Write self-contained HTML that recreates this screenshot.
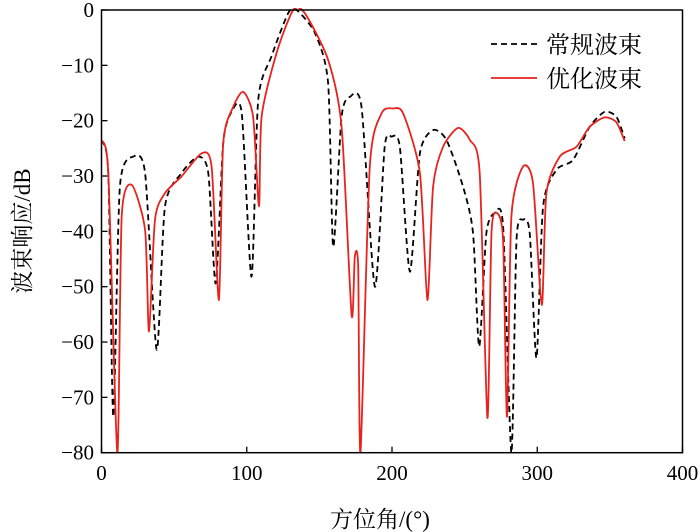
<!DOCTYPE html>
<html><head><meta charset="utf-8"><style>
html,body{margin:0;padding:0;background:#fff;}
svg{display:block;font-family:"Liberation Serif","Noto Serif CJK SC",serif;}
</style></head><body>
<svg id="chart" width="700" height="532" viewBox="0 0 700 532"></svg>
<script>
const xTicks=[0,100,200,300,400];
const yTicks=[0,-10,-20,-30,-40,-50,-60,-70,-80];
const convX=[0,4.7,8.1,12.7,21.9,30,38,43.7,55,66.6,73.5,78.6,83.8,89.6,96.5,103.3,107.9,117,128.5,134.3,147,156,159.5,165.3,171,179,188.2,195,199.7,205.4,212.3,219.2,228.3,237.5,248.9,255.8,260,265,270.8,276.5,282.2,285.7,290.2,294.8,299.5,304,313.2,324.6,336.1,346.4,354.5,360.2];
const convY=[-23.5,-29.5,-73.5,-31.9,-26.5,-29.5,-61.4,-35.5,-29.5,-26.5,-29.5,-49.4,-24.1,-18.4,-18.6,-48.2,-16.3,-8.4,-0.6,0,-4.2,-13.2,-42.8,-19.3,-15.7,-17.5,-50,-24.7,-22.9,-24.7,-47.3,-25.9,-21.7,-23.5,-31.9,-40.3,-60.8,-40.3,-36.7,-39.1,-80,-41.6,-37.9,-40.3,-62.9,-35.5,-28.9,-27.1,-21.1,-18.4,-19.3,-23.2];
const optX=[0,4.7,10.9,13.9,20.8,30,32.7,36.8,43.7,55,69,75.8,80.8,83.8,90.7,97.6,104.4,108.4,110.2,120.5,132,140,156,165.3,172.2,174.4,176.7,178.3,184.7,192.8,200.8,207.7,219.2,224.4,228.3,235.2,245.5,253.6,260.4,265.7,268.5,272.3,276.5,279.2,282.2,290.2,297.1,303.1,306.3,315.5,327,336.1,346.4,354.5,360.2];
const optY=[-23.5,-29.5,-80,-37.3,-31.6,-39.8,-58.1,-37.9,-33.1,-30.1,-25.9,-28.3,-52.4,-24.1,-17.5,-14.8,-19.3,-35.5,-19.3,-7.8,0,-0.6,-9,-21.1,-55.1,-44.6,-46.4,-80,-28.3,-18.7,-17.8,-18.7,-29.5,-52.4,-31.9,-24.7,-21.3,-23.5,-29.5,-73.7,-40.3,-36.7,-41.6,-73.5,-37.3,-28.3,-31.3,-53.3,-33.1,-26.5,-24.7,-21.1,-19.4,-20.3,-23.7];
const L=101.5,R=682.5,T=10,B=452.7;
const sx=v=>L+(v-0)/400*(R-L);
const sy=v=>T+(0-v)/80*(B-T);
const NS='http://www.w3.org/2000/svg';
const svg=document.getElementById('chart');
function mk(tag,attrs,parent){const e=document.createElementNS(NS,tag);for(const k in attrs)e.setAttribute(k,attrs[k]);(parent||svg).appendChild(e);return e;}
const defs=mk('defs',{});const cp=mk('clipPath',{id:'pc'},defs);mk('rect',{x:L,y:T-2,width:R-L,height:B-T+2},cp);
function line(xs,ys,color,dash,name){
  const P=xs.map((x,i)=>[sx(x),sy(ys[i])]);
  const k=0.12;
  let d='M'+P[0][0].toFixed(1)+','+P[0][1].toFixed(1);
  for(let i=0;i<P.length-1;i++){
    const p0=P[Math.max(0,i-1)],p1=P[i],p2=P[i+1],p3=P[Math.min(P.length-1,i+2)];
    const c1=[p1[0]+(p2[0]-p0[0])*k,p1[1]+(p2[1]-p0[1])*k];
    const c2=[p2[0]-(p3[0]-p1[0])*k,p2[1]-(p3[1]-p1[1])*k];
    d+='C'+c1[0].toFixed(1)+','+c1[1].toFixed(1)+' '+c2[0].toFixed(1)+','+c2[1].toFixed(1)+' '+p2[0].toFixed(1)+','+p2[1].toFixed(1);
  }
  const p=mk('path',{d:d,fill:'none',stroke:color,'stroke-width':'1.8','clip-path':'url(#pc)','stroke-linejoin':'round'});
  if(dash)p.setAttribute('stroke-dasharray',dash);
  
  
}
line(convX,convY,'#000','6,4','conventional-beam-line');
line(optX,optY,'#e8231e',null,'optimized-beam-line');
const fr=mk('rect',{x:L,y:T,width:R-L,height:B-T,fill:'none',stroke:'#000','stroke-width':'1.5'});


xTicks.forEach(v=>{
  const t=mk('line',{x1:sx(v),x2:sx(v),y1:B,y2:B-6,stroke:'#000','stroke-width':'1.3'});
  
  
  const tx=mk('text',{x:sx(v),y:480,'text-anchor':'middle','font-size':'21'});tx.textContent=v;
  
  
});
yTicks.forEach(v=>{
  const t=mk('line',{x1:L,x2:L+6,y1:sy(v),y2:sy(v),stroke:'#000','stroke-width':'1.3'});
  
  
  const tx=mk('text',{x:94,y:sy(v)+7,'text-anchor':'end','font-size':'21'});tx.textContent=v===0?'0':'\u2212'+(-v);
  
  
});
</script>
<svg style="position:absolute;left:0;top:0" width="700" height="532">
<text x="380" y="527" text-anchor="middle" font-size="23" font-family="Liberation Serif, Noto Serif CJK SC, serif">方位角/(°)</text>
<text transform="translate(30,231) rotate(-90)" text-anchor="middle" font-size="23" font-family="Liberation Serif, Noto Serif CJK SC, serif">波束响应/dB</text>
<g>
<line x1="491" y1="44" x2="537" y2="44" stroke="#000" stroke-width="1.8" stroke-dasharray="6,4"/>
<text x="546" y="53" font-size="24" font-family="Noto Serif CJK SC, serif">常规波束</text>
<line x1="491" y1="78" x2="537" y2="78" stroke="#e8231e" stroke-width="1.8"/>
<text x="546" y="87" font-size="24" font-family="Noto Serif CJK SC, serif">优化波束</text>
</g>
</svg>
</body></html>
